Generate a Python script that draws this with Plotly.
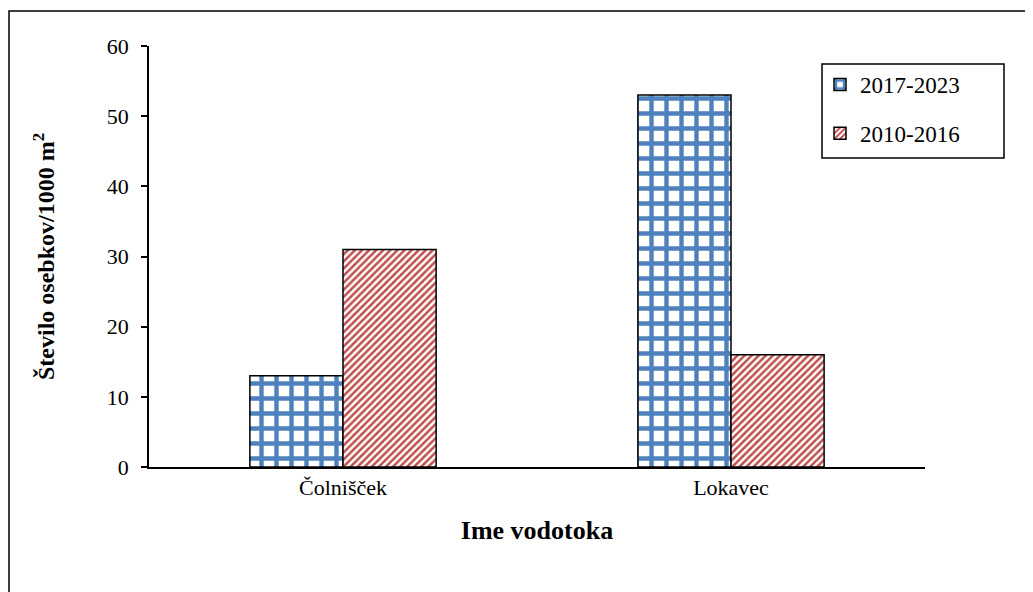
import plotly.graph_objects as go

categories = ["Čolnišček", "Lokavec"]
series_names = ["2017-2023", "2010-2016"]
values_2017_2023 = [13, 53]
values_2010_2016 = [31, 16]
y_ticks = [0, 10, 20, 30, 40, 50, 60]

BLUE = "#4F81BD"
RED = "#C0504D"
FONT = "Liberation Serif"

# page pixel geometry (the page body adds an 8px offset)
OFF = 8
W, H = 1033 - OFF, 592 - OFF
PX0, PX1 = 149, 925   # plot area left/right on page
PY0, PY1 = 46, 467    # plot area top/bottom on page
L, T = PX0 - OFF, PY0 - OFF
pw, ph = PX1 - PX0, PY1 - PY0
R = W - L - pw
B = H - T - ph


def px(xp):
    return (xp - PX0) / pw


def py(yp):
    return (PY1 - yp) / ph


NBSP = "\u00a0" * 6

fig = go.Figure()
fig.add_trace(go.Bar(
    name=series_names[0] + NBSP, x=categories, y=values_2017_2023,
    marker=dict(color="white", line=dict(color="black", width=1.5),
                pattern=dict(shape="+", fgcolor=BLUE, bgcolor="white",
                             size=15, solidity=0.5, fillmode="replace")),
    legendgroup="a",
))
fig.add_trace(go.Bar(
    name=series_names[1] + NBSP, x=categories, y=values_2010_2016,
    marker=dict(color="white", line=dict(color="black", width=1.5),
                pattern=dict(shape="/", fgcolor=RED, bgcolor="white",
                             size=5, solidity=0.5, fillmode="replace")),
    legendgroup="b",
))

fig.update_layout(
    width=W, height=H,
    margin=dict(l=L, r=R, t=T, b=B, pad=0),
    paper_bgcolor="white", plot_bgcolor="white",
    barmode="group", bargap=0.52, bargroupgap=0,
    font=dict(family=FONT, size=22, color="black"),
    showlegend=True,
    legend=dict(
        x=px(820), y=py(63), xanchor="left", yanchor="top",
        borderwidth=0, bgcolor="rgba(0,0,0,0)",
        font=dict(family=FONT, size=23, color="black"),
        traceorder="grouped", tracegroupgap=16,
    ),
    xaxis=dict(
        showline=True, linecolor="black", linewidth=1.5,
        ticks="", showgrid=False, zeroline=False,
        tickfont=dict(family=FONT, size=22),
        title=dict(text="<b>Ime vodotoka</b>", font=dict(family=FONT, size=26), standoff=22),
    ),
    yaxis=dict(
        range=[0, 60], tickvals=y_ticks, ticktext=[str(v) for v in y_ticks],
        showline=True, linecolor="black", linewidth=1.5,
        ticks="outside", ticklen=6, tickwidth=1.5, tickcolor="black",
        ticklabelstandoff=8,
        showgrid=False, zeroline=False,
        tickfont=dict(family=FONT, size=22),
        title=dict(text="<b>Število osebkov/1000 m<sup>2</sup></b>",
                   font=dict(family=FONT, size=24), standoff=45),
    ),
    shapes=[
        dict(type="rect", xref="paper", yref="paper",
             x0=px(9), x1=px(1045), y0=py(605), y1=py(11),
             line=dict(color="black", width=1.5), fillcolor="rgba(0,0,0,0)", layer="below"),
        dict(type="rect", xref="paper", yref="paper",
             x0=px(822), x1=px(1004), y0=py(158), y1=py(64),
             line=dict(color="black", width=1.5), fillcolor="rgba(0,0,0,0)", layer="above"),
    ],
)

fig.write_html("out.html")
